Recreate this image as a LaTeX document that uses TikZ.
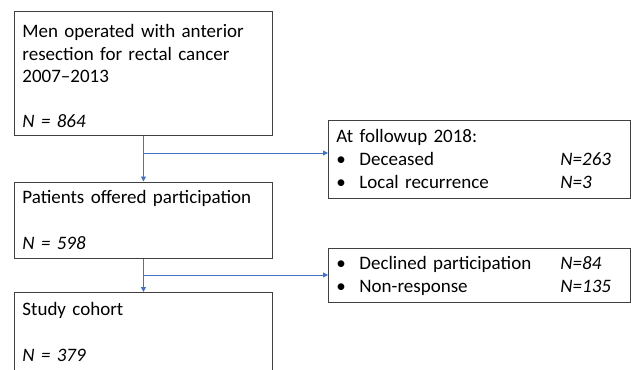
\documentclass[tikz,border=0pt]{standalone}
\usepackage{fontspec}
\setmainfont{Carlito}
\usetikzlibrary{arrows.meta,positioning}
\definecolor{flowblue}{RGB}{68,114,196}
\definecolor{boxgray}{RGB}{64,64,64}
\newcommand{\itemrow}[2]{\makebox[23pt][l]{\textbullet}\makebox[201pt][l]{#1}\textit{#2}}

\begin{document}
\begin{tikzpicture}[x=1pt, y=-1pt,
  font=\fontsize{19}{23}\selectfont,
  box/.style={draw=boxgray, line width=0.9pt, anchor=north west, align=left,
              inner xsep=8pt, inner ysep=0pt, text width=242pt},
  sidebox/.style={box, text width=286pt},
  arr/.style={-{Triangle[length=5pt, width=5pt]}, line width=0.8pt, color=flowblue}]
\clip (0,0) rectangle (631,369);
\node[box, minimum height=124pt, font=\fontsize{19}{22.5}\selectfont] (men) at (14,11)
  {\rule{0pt}{18.5pt}Men operated with anterior\\resection for rectal cancer\\2007--2013\\[22.5pt]\textit{N = 864}};
\node[box, minimum height=76.5pt] (offered) at (14,181.5)
  {Patients offered participation\\[23pt]\textit{N = 598}};
\node[box, minimum height=80pt] (cohort) at (14,292)
  {Study cohort\\[23pt]\textit{N = 379}};
\node[sidebox, minimum height=78.5pt] (followup) at (328,119.5)
  {At followup 2018:\\\itemrow{Deceased}{N=263}\\\itemrow{Local recurrence}{N=3}};
\node[sidebox, minimum height=54pt] (excluded) at (328,248)
  {\itemrow{Declined participation}{N=84}\\\itemrow{Non-response}{N=135}};
\coordinate (split1) at (143,153);
\coordinate (split2) at (143,275);
\draw[arr] (men.south) -- (offered.north);
\draw[arr] (split1) -- (split1 -| followup.west);
\draw[arr] (offered.south) -- (cohort.north);
\draw[arr] (split2) -- (split2 -| excluded.west);
\end{tikzpicture}
\end{document}
